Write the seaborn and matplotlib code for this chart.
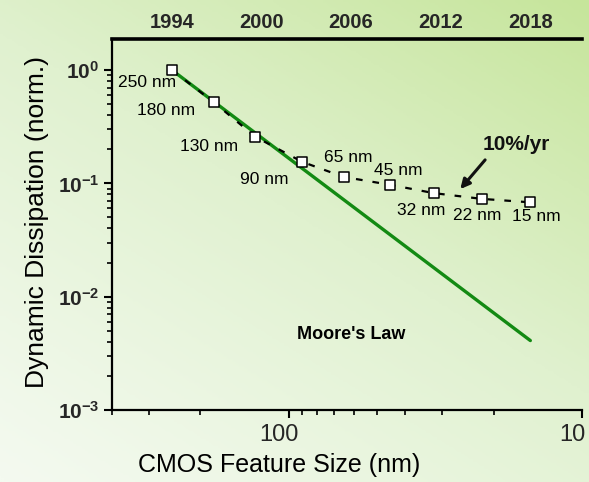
import numpy as np
import pandas as pd
import matplotlib
matplotlib.use('Agg')
import matplotlib.pyplot as plt
import matplotlib.transforms as mtransforms
import seaborn as sns
from matplotlib.colors import LinearSegmentedColormap
from matplotlib.ticker import FixedLocator, FixedFormatter, NullFormatter, LogLocator, NullLocator

# ---------------- data ----------------
node_labels = ['250 nm', '180 nm', '130 nm', '90 nm', '65 nm', '45 nm', '32 nm', '22 nm', '15 nm']
feature_nm = [250, 180, 130, 90, 65, 45, 32, 22, 15]
dissipation = [1.0, 0.52, 0.258, 0.155, 0.114, 0.097, 0.082, 0.073, 0.068]

moore_nm = [250, 15]
moore_vals = [1.0, 0.0041]

year_ticks = [1994, 2000, 2006, 2012, 2018]
year_labels = ['1994', '2000', '2006', '2012', '2018']
year_ref = [1994, 2018]      # years that line up with the 250 nm and 15 nm nodes
size_ref = [250, 15]

x_tick_vals = [100, 10]
x_tick_labels = ['100', '10']
y_tick_vals = [1e-3, 1e-2, 1e-1, 1e0]
y_tick_labels = [r'$\mathbf{10^{-3}}$', r'$\mathbf{10^{-2}}$', r'$\mathbf{10^{-1}}$', r'$\mathbf{10^{0}}$']

# label offsets in pixels (dx right, dy down) relative to each node marker
label_offsets = [(-25, 12), (-48, 8), (-46, 10), (-38, 18), (5, -19),
                 (8, -14), (-13, 17), (-4, 17), (6, 14)]

# ---------------- style ----------------
sns.set_style('ticks')
plt.rcParams['font.family'] = ['Liberation Sans', 'DejaVu Sans']
plt.rcParams['mathtext.fontset'] = 'custom'
plt.rcParams['mathtext.rm'] = 'Liberation Sans'
plt.rcParams['mathtext.bf'] = 'Liberation Sans:bold'
plt.rcParams['mathtext.it'] = 'Liberation Sans:italic'

W, H = 589, 482
fig = plt.figure(figsize=(W / 100, H / 100), dpi=100)

# background gradient
bg = fig.add_axes([0, 0, 1, 1], zorder=0)
yy, xx = np.mgrid[0:1:200j, 0:1:200j]
t = np.clip((0.9 * xx + 1.2 * (1 - yy)) / 2.1, 0, 1) ** 1.1
cmap = LinearSegmentedColormap.from_list('bg', ['#f4faf0', '#e0f1cf', '#c6e59b'])
bg.imshow(t, cmap=cmap, aspect='auto', extent=[0, 1, 0, 1], origin='upper')
bg.axis('off')

left, right, top, bottom = 112, 582, 38.7, 410
ax = fig.add_axes([left / W, 1 - bottom / H, (right - left) / W, (bottom - top) / H], zorder=1)
ax.patch.set_alpha(0)
ax.set_xscale('log')
ax.set_yscale('log')

df_moore = pd.DataFrame({'size': moore_nm, 'val': moore_vals})
df = pd.DataFrame({'size': feature_nm, 'val': dissipation, 'node': node_labels})

sns.lineplot(data=df_moore, x='size', y='val', ax=ax, color='#138a13', linewidth=2.4,
             sort=False, legend=False, zorder=2)
sns.lineplot(data=df, x='size', y='val', ax=ax, color='black', linewidth=1.6,
             linestyle=(0, (3, 4.5)), sort=False, legend=False, zorder=3)
sns.scatterplot(data=df, x='size', y='val', ax=ax, marker='s', s=44, color='white',
                edgecolor='black', linewidth=1.1, legend=False, zorder=4)

ax.set_xlim(400, 10)
ax.set_ylim(1e-3, 1.89)

# ticks
ax.xaxis.set_major_locator(FixedLocator(x_tick_vals))
ax.xaxis.set_major_formatter(FixedFormatter(x_tick_labels))
ax.xaxis.set_minor_locator(LogLocator(base=10, subs=np.arange(2, 10)))
ax.xaxis.set_minor_formatter(NullFormatter())
ax.yaxis.set_major_locator(FixedLocator(y_tick_vals))
ax.yaxis.set_major_formatter(FixedFormatter(y_tick_labels))
ax.yaxis.set_minor_locator(LogLocator(base=10, subs=np.arange(2, 10)))
ax.yaxis.set_minor_formatter(NullFormatter())
ax.tick_params(axis='both', which='major', direction='out', length=6, width=1.5, color='black')
ax.tick_params(axis='both', which='minor', direction='out', length=3.5, width=1.2, color='black')
ax.tick_params(axis='x', which='major', labelsize=17, pad=4)
ax.tick_params(axis='y', which='major', labelsize=15, pad=3)
for sp in ['right', 'top']:
    ax.spines[sp].set_visible(False)
for sp in ['left', 'bottom']:
    ax.spines[sp].set_linewidth(1.6)
    ax.spines[sp].set_color('black')
ax.set_xlabel('')
ax.set_ylabel('')

# shift bottom tick labels a little left, as in the reference
shift = mtransforms.ScaledTranslation(-7 / 72, 0, fig.dpi_scale_trans)
for lab in ax.get_xticklabels():
    lab.set_transform(lab.get_transform() + shift)

# top year axis
b = (np.log10(size_ref[0]) - np.log10(size_ref[1])) / (year_ref[1] - year_ref[0])

def size_to_year(s):
    s = np.clip(np.asarray(s, dtype=float), 1e-6, None)
    return year_ref[0] + (np.log10(size_ref[0]) - np.log10(s)) / b

def year_to_size(y):
    y = np.asarray(y, dtype=float)
    return 10 ** (np.log10(size_ref[0]) - (y - year_ref[0]) * b)

sec = ax.secondary_xaxis('top', functions=(size_to_year, year_to_size))
sec.xaxis.set_major_locator(FixedLocator(year_ticks))
sec.xaxis.set_major_formatter(FixedFormatter(year_labels))
sec.xaxis.set_minor_locator(NullLocator())
sec.tick_params(axis='x', length=0, pad=5, labelsize=14.5)
for lab in sec.get_xticklabels():
    lab.set_fontweight('bold')
sec.spines['top'].set_linewidth(2.6)
sec.spines['top'].set_color('black')

# node labels
for lbl, sx, sy, (dx, dy) in zip(node_labels, feature_nm, dissipation, label_offsets):
    ax.annotate(lbl, xy=(sx, sy), xytext=(dx, -dy), textcoords='offset pixels',
                ha='center', va='center', fontsize=12.5, color='black', zorder=5)

ax.text(61, 0.0046, "Moore's Law", ha='center', va='center', fontsize=13,
        fontweight='bold', color='black')

ax.annotate('10%/yr', xy=(26, 0.089), xytext=(16.7, 0.218), ha='center', va='center',
            fontsize=15, fontweight='bold', color='#111111',
            arrowprops=dict(arrowstyle='-|>', lw=2.2, color='#111111', mutation_scale=14,
                            shrinkA=2, shrinkB=0, relpos=(0.1, 0.0)))

fig.text(37 / W, 1 - 222 / H, 'Dynamic Dissipation (norm.)', rotation=90,
         ha='center', va='center', fontsize=19, color='black')
fig.text(279 / W, 1 - 465 / H, 'CMOS Feature Size (nm)', ha='center', va='center',
         fontsize=18, color='black')

fig.savefig('out.png', dpi=100)
